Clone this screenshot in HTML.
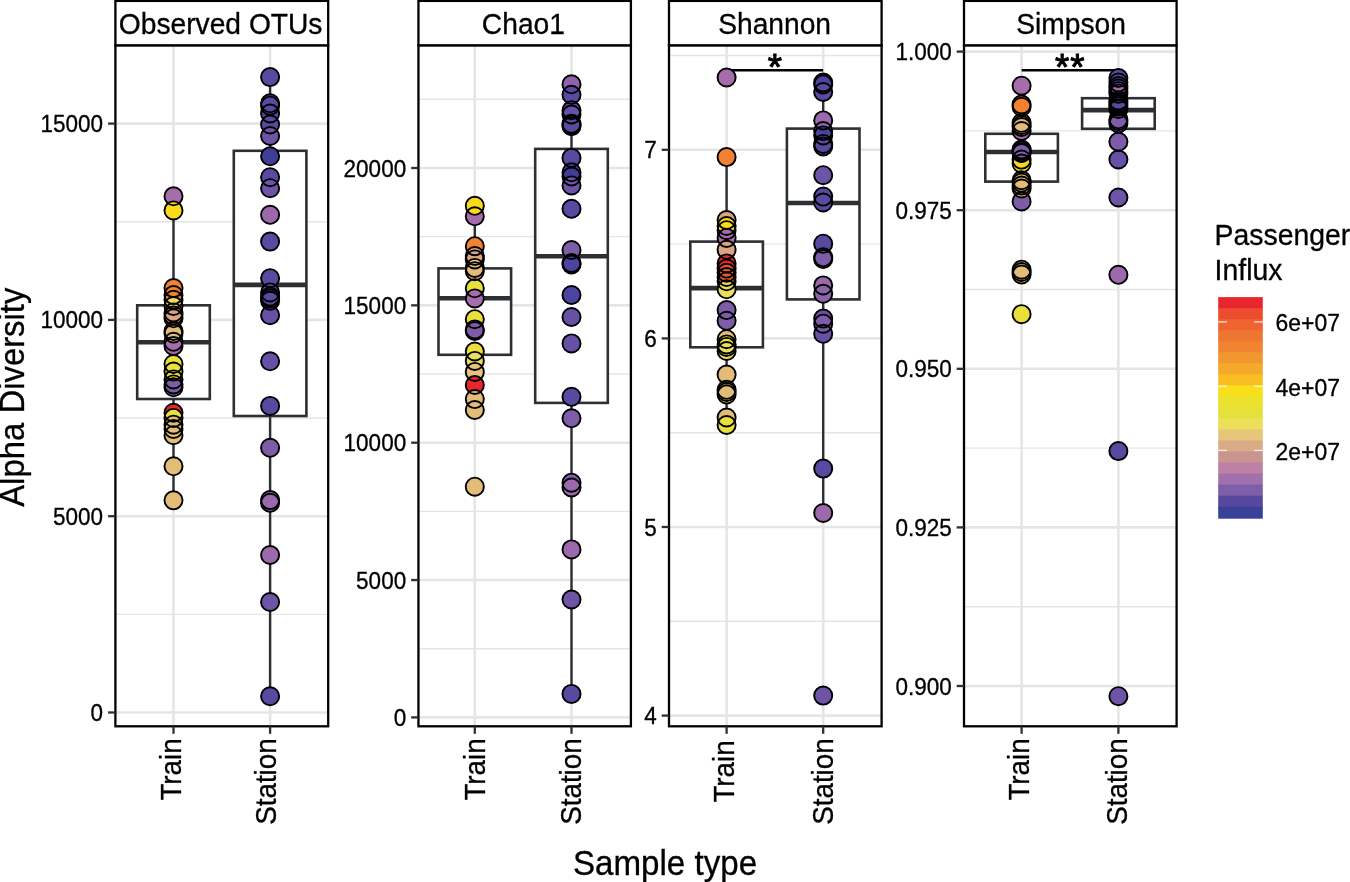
<!DOCTYPE html><html><head><meta charset="utf-8"><style>html,body{margin:0;padding:0;background:#fff;}svg{display:block;will-change:transform;}text{font-family:"Liberation Sans", sans-serif;stroke:#000;stroke-width:0.3px;}</style></head><body>
<svg width="1350" height="882" viewBox="0 0 1350 882">
<rect x="0" y="0" width="1350" height="882" fill="#fff"/>
<rect x="115.4" y="45.3" width="212.80" height="681.00" fill="#fff"/>
<line x1="115.4" x2="328.2" y1="614.35" y2="614.35" stroke="#E4E6E6" stroke-width="1.4"/>
<line x1="115.4" x2="328.2" y1="418.05" y2="418.05" stroke="#E4E6E6" stroke-width="1.4"/>
<line x1="115.4" x2="328.2" y1="221.75" y2="221.75" stroke="#E4E6E6" stroke-width="1.4"/>
<line x1="115.4" x2="328.2" y1="712.50" y2="712.50" stroke="#E4E6E6" stroke-width="2.6"/>
<line x1="115.4" x2="328.2" y1="516.20" y2="516.20" stroke="#E4E6E6" stroke-width="2.6"/>
<line x1="115.4" x2="328.2" y1="319.90" y2="319.90" stroke="#E4E6E6" stroke-width="2.6"/>
<line x1="115.4" x2="328.2" y1="123.60" y2="123.60" stroke="#E4E6E6" stroke-width="2.6"/>
<line x1="173.5" x2="173.5" y1="45.3" y2="726.3" stroke="#E4E6E6" stroke-width="2.6"/>
<line x1="270.1" x2="270.1" y1="45.3" y2="726.3" stroke="#E4E6E6" stroke-width="2.6"/>
<line x1="173.5" x2="173.5" y1="210.2" y2="305.3" stroke="#2D3033" stroke-width="2.4"/>
<line x1="173.5" x2="173.5" y1="399.0" y2="500.2" stroke="#2D3033" stroke-width="2.4"/>
<rect x="137.20" y="305.3" width="72.60" height="93.70" fill="#fff" stroke="#2D3033" stroke-width="2.6"/>
<line x1="137.20" x2="209.80" y1="342.2" y2="342.2" stroke="#2D3033" stroke-width="4.6"/>
<line x1="270.1" x2="270.1" y1="77.1" y2="150.8" stroke="#2D3033" stroke-width="2.4"/>
<line x1="270.1" x2="270.1" y1="416.0" y2="696.3" stroke="#2D3033" stroke-width="2.4"/>
<rect x="233.80" y="150.8" width="72.60" height="265.20" fill="#fff" stroke="#2D3033" stroke-width="2.6"/>
<line x1="233.80" x2="306.40" y1="284.9" y2="284.9" stroke="#2D3033" stroke-width="4.6"/>
<circle cx="173.5" cy="196.3" r="9.35" fill="#A66CAC"/>
<circle cx="173.5" cy="210.4" r="9.35" fill="#F9DB1C"/>
<circle cx="173.5" cy="288.1" r="9.35" fill="#F28131"/>
<circle cx="173.5" cy="295.1" r="9.35" fill="#F28131"/>
<circle cx="173.5" cy="299.8" r="9.35" fill="#F28131"/>
<circle cx="173.5" cy="306.0" r="9.35" fill="#ECE05A"/>
<circle cx="173.5" cy="312.4" r="9.35" fill="#E3BD78"/>
<circle cx="173.5" cy="315.5" r="9.35" fill="#E3BD78"/>
<circle cx="173.5" cy="318.3" r="9.35" fill="#D9A384"/>
<circle cx="173.5" cy="331.0" r="9.35" fill="#E3BD78"/>
<circle cx="173.5" cy="341.8" r="9.35" fill="#A66CAC"/>
<circle cx="173.5" cy="346.0" r="9.35" fill="#A66CAC"/>
<circle cx="173.5" cy="333.5" r="9.35" fill="#E3BD78"/>
<circle cx="173.5" cy="364.0" r="9.35" fill="#EAE03C"/>
<circle cx="173.5" cy="371.5" r="9.35" fill="#EAE03C"/>
<circle cx="173.5" cy="379.4" r="9.35" fill="#EAE03C"/>
<circle cx="173.5" cy="384.4" r="9.35" fill="#F9DB1C"/>
<circle cx="173.5" cy="387.3" r="9.35" fill="#7D5DA8"/>
<circle cx="173.5" cy="412.8" r="9.35" fill="#E8262D"/>
<circle cx="173.5" cy="417.9" r="9.35" fill="#EAE03C"/>
<circle cx="173.5" cy="424.7" r="9.35" fill="#E3BD78"/>
<circle cx="173.5" cy="429.0" r="9.35" fill="#E3BD78"/>
<circle cx="173.5" cy="435.2" r="9.35" fill="#E3BD78"/>
<circle cx="173.5" cy="466.3" r="9.35" fill="#E3BD78"/>
<circle cx="173.5" cy="500.3" r="9.35" fill="#E3BD78"/>
<circle cx="270.1" cy="77.1" r="9.35" fill="#5849A1"/>
<circle cx="270.1" cy="103.3" r="9.35" fill="#5849A1"/>
<circle cx="270.1" cy="105.7" r="9.35" fill="#5849A1"/>
<circle cx="270.1" cy="113.5" r="9.35" fill="#5849A1"/>
<circle cx="270.1" cy="124.5" r="9.35" fill="#5A4AA2"/>
<circle cx="270.1" cy="136.0" r="9.35" fill="#6E54A7"/>
<circle cx="270.1" cy="156.3" r="9.35" fill="#403D97"/>
<circle cx="270.1" cy="177.2" r="9.35" fill="#5849A1"/>
<circle cx="270.1" cy="188.2" r="9.35" fill="#6E54A7"/>
<circle cx="270.1" cy="214.8" r="9.35" fill="#9C6AAC"/>
<circle cx="270.1" cy="241.6" r="9.35" fill="#5849A1"/>
<circle cx="270.1" cy="278.2" r="9.35" fill="#5849A1"/>
<circle cx="270.1" cy="298.5" r="9.35" fill="#7D5DA8"/>
<circle cx="270.1" cy="292.4" r="9.35" fill="#5849A1"/>
<circle cx="270.1" cy="296.6" r="9.35" fill="#5849A1"/>
<circle cx="270.1" cy="300.8" r="9.35" fill="#5849A1"/>
<circle cx="270.1" cy="315.2" r="9.35" fill="#6651A6"/>
<circle cx="270.1" cy="361.3" r="9.35" fill="#6651A6"/>
<circle cx="270.1" cy="405.9" r="9.35" fill="#5849A1"/>
<circle cx="270.1" cy="447.8" r="9.35" fill="#7D5DA8"/>
<circle cx="270.1" cy="502.8" r="9.35" fill="#7D5DA8"/>
<circle cx="270.1" cy="500.1" r="9.35" fill="#9C6AAC"/>
<circle cx="270.1" cy="555.0" r="9.35" fill="#9C6AAC"/>
<circle cx="270.1" cy="602.0" r="9.35" fill="#6E54A7"/>
<circle cx="270.1" cy="696.3" r="9.35" fill="#5849A1"/>
<circle cx="173.5" cy="196.3" r="9.05" fill="none" stroke="#000" stroke-width="1.9"/>
<circle cx="173.5" cy="210.4" r="9.05" fill="none" stroke="#000" stroke-width="1.9"/>
<circle cx="173.5" cy="288.1" r="9.05" fill="none" stroke="#000" stroke-width="1.9"/>
<circle cx="173.5" cy="295.1" r="9.05" fill="none" stroke="#000" stroke-width="1.9"/>
<circle cx="173.5" cy="299.8" r="9.05" fill="none" stroke="#000" stroke-width="1.9"/>
<circle cx="173.5" cy="306.0" r="9.05" fill="none" stroke="#000" stroke-width="1.9"/>
<circle cx="173.5" cy="312.4" r="9.05" fill="none" stroke="#000" stroke-width="1.9"/>
<circle cx="173.5" cy="315.5" r="9.05" fill="none" stroke="#000" stroke-width="1.9"/>
<circle cx="173.5" cy="318.3" r="9.05" fill="none" stroke="#000" stroke-width="1.9"/>
<circle cx="173.5" cy="331.0" r="9.05" fill="none" stroke="#000" stroke-width="1.9"/>
<circle cx="173.5" cy="341.8" r="9.05" fill="none" stroke="#000" stroke-width="1.9"/>
<circle cx="173.5" cy="346.0" r="9.05" fill="none" stroke="#000" stroke-width="1.9"/>
<circle cx="173.5" cy="333.5" r="9.05" fill="none" stroke="#000" stroke-width="1.9"/>
<circle cx="173.5" cy="364.0" r="9.05" fill="none" stroke="#000" stroke-width="1.9"/>
<circle cx="173.5" cy="371.5" r="9.05" fill="none" stroke="#000" stroke-width="1.9"/>
<circle cx="173.5" cy="379.4" r="9.05" fill="none" stroke="#000" stroke-width="1.9"/>
<circle cx="173.5" cy="384.4" r="9.05" fill="none" stroke="#000" stroke-width="1.9"/>
<circle cx="173.5" cy="387.3" r="9.05" fill="none" stroke="#000" stroke-width="1.9"/>
<circle cx="173.5" cy="412.8" r="9.05" fill="none" stroke="#000" stroke-width="1.9"/>
<circle cx="173.5" cy="417.9" r="9.05" fill="none" stroke="#000" stroke-width="1.9"/>
<circle cx="173.5" cy="424.7" r="9.05" fill="none" stroke="#000" stroke-width="1.9"/>
<circle cx="173.5" cy="429.0" r="9.05" fill="none" stroke="#000" stroke-width="1.9"/>
<circle cx="173.5" cy="435.2" r="9.05" fill="none" stroke="#000" stroke-width="1.9"/>
<circle cx="173.5" cy="466.3" r="9.05" fill="none" stroke="#000" stroke-width="1.9"/>
<circle cx="173.5" cy="500.3" r="9.05" fill="none" stroke="#000" stroke-width="1.9"/>
<circle cx="270.1" cy="77.1" r="9.05" fill="none" stroke="#000" stroke-width="1.9"/>
<circle cx="270.1" cy="103.3" r="9.05" fill="none" stroke="#000" stroke-width="1.9"/>
<circle cx="270.1" cy="105.7" r="9.05" fill="none" stroke="#000" stroke-width="1.9"/>
<circle cx="270.1" cy="113.5" r="9.05" fill="none" stroke="#000" stroke-width="1.9"/>
<circle cx="270.1" cy="124.5" r="9.05" fill="none" stroke="#000" stroke-width="1.9"/>
<circle cx="270.1" cy="136.0" r="9.05" fill="none" stroke="#000" stroke-width="1.9"/>
<circle cx="270.1" cy="156.3" r="9.05" fill="none" stroke="#000" stroke-width="1.9"/>
<circle cx="270.1" cy="177.2" r="9.05" fill="none" stroke="#000" stroke-width="1.9"/>
<circle cx="270.1" cy="188.2" r="9.05" fill="none" stroke="#000" stroke-width="1.9"/>
<circle cx="270.1" cy="214.8" r="9.05" fill="none" stroke="#000" stroke-width="1.9"/>
<circle cx="270.1" cy="241.6" r="9.05" fill="none" stroke="#000" stroke-width="1.9"/>
<circle cx="270.1" cy="278.2" r="9.05" fill="none" stroke="#000" stroke-width="1.9"/>
<circle cx="270.1" cy="298.5" r="9.05" fill="none" stroke="#000" stroke-width="1.9"/>
<circle cx="270.1" cy="292.4" r="9.05" fill="none" stroke="#000" stroke-width="1.9"/>
<circle cx="270.1" cy="296.6" r="9.05" fill="none" stroke="#000" stroke-width="1.9"/>
<circle cx="270.1" cy="300.8" r="9.05" fill="none" stroke="#000" stroke-width="1.9"/>
<circle cx="270.1" cy="315.2" r="9.05" fill="none" stroke="#000" stroke-width="1.9"/>
<circle cx="270.1" cy="361.3" r="9.05" fill="none" stroke="#000" stroke-width="1.9"/>
<circle cx="270.1" cy="405.9" r="9.05" fill="none" stroke="#000" stroke-width="1.9"/>
<circle cx="270.1" cy="447.8" r="9.05" fill="none" stroke="#000" stroke-width="1.9"/>
<circle cx="270.1" cy="502.8" r="9.05" fill="none" stroke="#000" stroke-width="1.9"/>
<circle cx="270.1" cy="500.1" r="9.05" fill="none" stroke="#000" stroke-width="1.9"/>
<circle cx="270.1" cy="555.0" r="9.05" fill="none" stroke="#000" stroke-width="1.9"/>
<circle cx="270.1" cy="602.0" r="9.05" fill="none" stroke="#000" stroke-width="1.9"/>
<circle cx="270.1" cy="696.3" r="9.05" fill="none" stroke="#000" stroke-width="1.9"/>
<rect x="115.4" y="45.3" width="212.80" height="681.00" fill="none" stroke="#000" stroke-width="2.3"/>
<rect x="115.4" y="0.9" width="212.80" height="44.40" fill="#fff" stroke="#000" stroke-width="2.3"/>
<text transform="translate(220.65,33.60) scale(1,1.045)" font-size="28.2" text-anchor="middle" fill="#000">Observed OTUs</text>
<line x1="108.10" x2="115.4" y1="712.50" y2="712.50" stroke="#2D3033" stroke-width="2.3"/>
<text transform="translate(103.10,721.00) scale(1,1.045)" font-size="22.5" text-anchor="end" fill="#000">0</text>
<line x1="108.10" x2="115.4" y1="516.20" y2="516.20" stroke="#2D3033" stroke-width="2.3"/>
<text transform="translate(103.10,524.70) scale(1,1.045)" font-size="22.5" text-anchor="end" fill="#000">5000</text>
<line x1="108.10" x2="115.4" y1="319.90" y2="319.90" stroke="#2D3033" stroke-width="2.3"/>
<text transform="translate(103.10,328.40) scale(1,1.045)" font-size="22.5" text-anchor="end" fill="#000">10000</text>
<line x1="108.10" x2="115.4" y1="123.60" y2="123.60" stroke="#2D3033" stroke-width="2.3"/>
<text transform="translate(103.10,132.10) scale(1,1.045)" font-size="22.5" text-anchor="end" fill="#000">15000</text>
<line x1="173.5" x2="173.5" y1="726.3" y2="733.8" stroke="#2D3033" stroke-width="2.3"/>
<text transform="translate(180.80,738.30) rotate(-90) scale(1,1.045)" font-size="27.8" text-anchor="end" fill="#000">Train</text>
<line x1="270.1" x2="270.1" y1="726.3" y2="733.8" stroke="#2D3033" stroke-width="2.3"/>
<text transform="translate(275.50,738.30) rotate(-90) scale(1,1.045)" font-size="27.8" text-anchor="end" fill="#000">Station</text>
<rect x="418.45" y="45.3" width="212.45" height="681.00" fill="#fff"/>
<line x1="418.45" x2="630.9" y1="648.73" y2="648.73" stroke="#E4E6E6" stroke-width="1.4"/>
<line x1="418.45" x2="630.9" y1="511.38" y2="511.38" stroke="#E4E6E6" stroke-width="1.4"/>
<line x1="418.45" x2="630.9" y1="374.02" y2="374.02" stroke="#E4E6E6" stroke-width="1.4"/>
<line x1="418.45" x2="630.9" y1="236.67" y2="236.67" stroke="#E4E6E6" stroke-width="1.4"/>
<line x1="418.45" x2="630.9" y1="99.32" y2="99.32" stroke="#E4E6E6" stroke-width="1.4"/>
<line x1="418.45" x2="630.9" y1="717.40" y2="717.40" stroke="#E4E6E6" stroke-width="2.6"/>
<line x1="418.45" x2="630.9" y1="580.05" y2="580.05" stroke="#E4E6E6" stroke-width="2.6"/>
<line x1="418.45" x2="630.9" y1="442.70" y2="442.70" stroke="#E4E6E6" stroke-width="2.6"/>
<line x1="418.45" x2="630.9" y1="305.35" y2="305.35" stroke="#E4E6E6" stroke-width="2.6"/>
<line x1="418.45" x2="630.9" y1="168.00" y2="168.00" stroke="#E4E6E6" stroke-width="2.6"/>
<line x1="474.8" x2="474.8" y1="45.3" y2="726.3" stroke="#E4E6E6" stroke-width="2.6"/>
<line x1="571.5" x2="571.5" y1="45.3" y2="726.3" stroke="#E4E6E6" stroke-width="2.6"/>
<line x1="474.8" x2="474.8" y1="204.3" y2="268.4" stroke="#2D3033" stroke-width="2.4"/>
<line x1="474.8" x2="474.8" y1="354.8" y2="409.5" stroke="#2D3033" stroke-width="2.4"/>
<rect x="438.50" y="268.4" width="72.60" height="86.40" fill="#fff" stroke="#2D3033" stroke-width="2.6"/>
<line x1="438.50" x2="511.10" y1="298.3" y2="298.3" stroke="#2D3033" stroke-width="4.6"/>
<line x1="571.5" x2="571.5" y1="83.5" y2="148.9" stroke="#2D3033" stroke-width="2.4"/>
<line x1="571.5" x2="571.5" y1="402.9" y2="693.9" stroke="#2D3033" stroke-width="2.4"/>
<rect x="535.20" y="148.9" width="72.60" height="254.00" fill="#fff" stroke="#2D3033" stroke-width="2.6"/>
<line x1="535.20" x2="607.80" y1="256.2" y2="256.2" stroke="#2D3033" stroke-width="4.6"/>
<circle cx="474.8" cy="216.3" r="9.35" fill="#A66CAC"/>
<circle cx="474.8" cy="205.8" r="9.35" fill="#F9DB1C"/>
<circle cx="474.8" cy="246.2" r="9.35" fill="#F28131"/>
<circle cx="474.8" cy="256.0" r="9.35" fill="#D9A384"/>
<circle cx="474.8" cy="259.4" r="9.35" fill="#D9A384"/>
<circle cx="474.8" cy="267.9" r="9.35" fill="#E7C47A"/>
<circle cx="474.8" cy="271.2" r="9.35" fill="#E3BD78"/>
<circle cx="474.8" cy="288.3" r="9.35" fill="#EAE03C"/>
<circle cx="474.8" cy="298.4" r="9.35" fill="#A66CAC"/>
<circle cx="474.8" cy="319.2" r="9.35" fill="#EAE03C"/>
<circle cx="474.8" cy="331.0" r="9.35" fill="#6E54A7"/>
<circle cx="474.8" cy="329.4" r="9.35" fill="#7D5DA8"/>
<circle cx="474.8" cy="351.5" r="9.35" fill="#EAE03C"/>
<circle cx="474.8" cy="360.9" r="9.35" fill="#ECE05A"/>
<circle cx="474.8" cy="371.9" r="9.35" fill="#E7C47A"/>
<circle cx="474.8" cy="385.0" r="9.35" fill="#E8262D"/>
<circle cx="474.8" cy="399.1" r="9.35" fill="#E3BD78"/>
<circle cx="474.8" cy="410.0" r="9.35" fill="#E3BD78"/>
<circle cx="474.8" cy="486.7" r="9.35" fill="#E3BD78"/>
<circle cx="571.5" cy="84.3" r="9.35" fill="#8B64AA"/>
<circle cx="571.5" cy="94.8" r="9.35" fill="#5849A1"/>
<circle cx="571.5" cy="110.2" r="9.35" fill="#5849A1"/>
<circle cx="571.5" cy="114.5" r="9.35" fill="#6651A6"/>
<circle cx="571.5" cy="123.8" r="9.35" fill="#5849A1"/>
<circle cx="571.5" cy="124.5" r="9.35" fill="#7D5DA8"/>
<circle cx="571.5" cy="126.3" r="9.35" fill="#5849A1"/>
<circle cx="571.5" cy="157.9" r="9.35" fill="#5849A1"/>
<circle cx="571.5" cy="172.3" r="9.35" fill="#4B44A0"/>
<circle cx="571.5" cy="176.5" r="9.35" fill="#403D97"/>
<circle cx="571.5" cy="185.4" r="9.35" fill="#6E54A7"/>
<circle cx="571.5" cy="208.8" r="9.35" fill="#5849A1"/>
<circle cx="571.5" cy="250.0" r="9.35" fill="#7D5DA8"/>
<circle cx="571.5" cy="263.0" r="9.35" fill="#4B44A0"/>
<circle cx="571.5" cy="264.5" r="9.35" fill="#4B44A0"/>
<circle cx="571.5" cy="295.0" r="9.35" fill="#4B44A0"/>
<circle cx="571.5" cy="317.0" r="9.35" fill="#6651A6"/>
<circle cx="571.5" cy="343.4" r="9.35" fill="#6651A6"/>
<circle cx="571.5" cy="396.8" r="9.35" fill="#5849A1"/>
<circle cx="571.5" cy="418.3" r="9.35" fill="#7D5DA8"/>
<circle cx="571.5" cy="482.7" r="9.35" fill="#7D5DA8"/>
<circle cx="571.5" cy="487.5" r="9.35" fill="#9C6AAC"/>
<circle cx="571.5" cy="549.4" r="9.35" fill="#9C6AAC"/>
<circle cx="571.5" cy="599.5" r="9.35" fill="#6E54A7"/>
<circle cx="571.5" cy="693.9" r="9.35" fill="#5849A1"/>
<circle cx="474.8" cy="216.3" r="9.05" fill="none" stroke="#000" stroke-width="1.9"/>
<circle cx="474.8" cy="205.8" r="9.05" fill="none" stroke="#000" stroke-width="1.9"/>
<circle cx="474.8" cy="246.2" r="9.05" fill="none" stroke="#000" stroke-width="1.9"/>
<circle cx="474.8" cy="256.0" r="9.05" fill="none" stroke="#000" stroke-width="1.9"/>
<circle cx="474.8" cy="259.4" r="9.05" fill="none" stroke="#000" stroke-width="1.9"/>
<circle cx="474.8" cy="267.9" r="9.05" fill="none" stroke="#000" stroke-width="1.9"/>
<circle cx="474.8" cy="271.2" r="9.05" fill="none" stroke="#000" stroke-width="1.9"/>
<circle cx="474.8" cy="288.3" r="9.05" fill="none" stroke="#000" stroke-width="1.9"/>
<circle cx="474.8" cy="298.4" r="9.05" fill="none" stroke="#000" stroke-width="1.9"/>
<circle cx="474.8" cy="319.2" r="9.05" fill="none" stroke="#000" stroke-width="1.9"/>
<circle cx="474.8" cy="331.0" r="9.05" fill="none" stroke="#000" stroke-width="1.9"/>
<circle cx="474.8" cy="329.4" r="9.05" fill="none" stroke="#000" stroke-width="1.9"/>
<circle cx="474.8" cy="351.5" r="9.05" fill="none" stroke="#000" stroke-width="1.9"/>
<circle cx="474.8" cy="360.9" r="9.05" fill="none" stroke="#000" stroke-width="1.9"/>
<circle cx="474.8" cy="371.9" r="9.05" fill="none" stroke="#000" stroke-width="1.9"/>
<circle cx="474.8" cy="385.0" r="9.05" fill="none" stroke="#000" stroke-width="1.9"/>
<circle cx="474.8" cy="399.1" r="9.05" fill="none" stroke="#000" stroke-width="1.9"/>
<circle cx="474.8" cy="410.0" r="9.05" fill="none" stroke="#000" stroke-width="1.9"/>
<circle cx="474.8" cy="486.7" r="9.05" fill="none" stroke="#000" stroke-width="1.9"/>
<circle cx="571.5" cy="84.3" r="9.05" fill="none" stroke="#000" stroke-width="1.9"/>
<circle cx="571.5" cy="94.8" r="9.05" fill="none" stroke="#000" stroke-width="1.9"/>
<circle cx="571.5" cy="110.2" r="9.05" fill="none" stroke="#000" stroke-width="1.9"/>
<circle cx="571.5" cy="114.5" r="9.05" fill="none" stroke="#000" stroke-width="1.9"/>
<circle cx="571.5" cy="123.8" r="9.05" fill="none" stroke="#000" stroke-width="1.9"/>
<circle cx="571.5" cy="124.5" r="9.05" fill="none" stroke="#000" stroke-width="1.9"/>
<circle cx="571.5" cy="126.3" r="9.05" fill="none" stroke="#000" stroke-width="1.9"/>
<circle cx="571.5" cy="157.9" r="9.05" fill="none" stroke="#000" stroke-width="1.9"/>
<circle cx="571.5" cy="172.3" r="9.05" fill="none" stroke="#000" stroke-width="1.9"/>
<circle cx="571.5" cy="176.5" r="9.05" fill="none" stroke="#000" stroke-width="1.9"/>
<circle cx="571.5" cy="185.4" r="9.05" fill="none" stroke="#000" stroke-width="1.9"/>
<circle cx="571.5" cy="208.8" r="9.05" fill="none" stroke="#000" stroke-width="1.9"/>
<circle cx="571.5" cy="250.0" r="9.05" fill="none" stroke="#000" stroke-width="1.9"/>
<circle cx="571.5" cy="263.0" r="9.05" fill="none" stroke="#000" stroke-width="1.9"/>
<circle cx="571.5" cy="264.5" r="9.05" fill="none" stroke="#000" stroke-width="1.9"/>
<circle cx="571.5" cy="295.0" r="9.05" fill="none" stroke="#000" stroke-width="1.9"/>
<circle cx="571.5" cy="317.0" r="9.05" fill="none" stroke="#000" stroke-width="1.9"/>
<circle cx="571.5" cy="343.4" r="9.05" fill="none" stroke="#000" stroke-width="1.9"/>
<circle cx="571.5" cy="396.8" r="9.05" fill="none" stroke="#000" stroke-width="1.9"/>
<circle cx="571.5" cy="418.3" r="9.05" fill="none" stroke="#000" stroke-width="1.9"/>
<circle cx="571.5" cy="482.7" r="9.05" fill="none" stroke="#000" stroke-width="1.9"/>
<circle cx="571.5" cy="487.5" r="9.05" fill="none" stroke="#000" stroke-width="1.9"/>
<circle cx="571.5" cy="549.4" r="9.05" fill="none" stroke="#000" stroke-width="1.9"/>
<circle cx="571.5" cy="599.5" r="9.05" fill="none" stroke="#000" stroke-width="1.9"/>
<circle cx="571.5" cy="693.9" r="9.05" fill="none" stroke="#000" stroke-width="1.9"/>
<rect x="418.45" y="45.3" width="212.45" height="681.00" fill="none" stroke="#000" stroke-width="2.3"/>
<rect x="418.45" y="0.9" width="212.45" height="44.40" fill="#fff" stroke="#000" stroke-width="2.3"/>
<text transform="translate(523.38,33.60) scale(1,1.045)" font-size="28.2" text-anchor="middle" fill="#000">Chao1</text>
<line x1="411.15" x2="418.45" y1="717.40" y2="717.40" stroke="#2D3033" stroke-width="2.3"/>
<text transform="translate(406.15,725.90) scale(1,1.045)" font-size="22.5" text-anchor="end" fill="#000">0</text>
<line x1="411.15" x2="418.45" y1="580.05" y2="580.05" stroke="#2D3033" stroke-width="2.3"/>
<text transform="translate(406.15,588.55) scale(1,1.045)" font-size="22.5" text-anchor="end" fill="#000">5000</text>
<line x1="411.15" x2="418.45" y1="442.70" y2="442.70" stroke="#2D3033" stroke-width="2.3"/>
<text transform="translate(406.15,451.20) scale(1,1.045)" font-size="22.5" text-anchor="end" fill="#000">10000</text>
<line x1="411.15" x2="418.45" y1="305.35" y2="305.35" stroke="#2D3033" stroke-width="2.3"/>
<text transform="translate(406.15,313.85) scale(1,1.045)" font-size="22.5" text-anchor="end" fill="#000">15000</text>
<line x1="411.15" x2="418.45" y1="168.00" y2="168.00" stroke="#2D3033" stroke-width="2.3"/>
<text transform="translate(406.15,176.50) scale(1,1.045)" font-size="22.5" text-anchor="end" fill="#000">20000</text>
<line x1="474.8" x2="474.8" y1="726.3" y2="733.8" stroke="#2D3033" stroke-width="2.3"/>
<text transform="translate(485.20,738.30) rotate(-90) scale(1,1.045)" font-size="27.8" text-anchor="end" fill="#000">Train</text>
<line x1="571.5" x2="571.5" y1="726.3" y2="733.8" stroke="#2D3033" stroke-width="2.3"/>
<text transform="translate(580.80,738.30) rotate(-90) scale(1,1.045)" font-size="27.8" text-anchor="end" fill="#000">Station</text>
<rect x="669.0" y="45.3" width="212.60" height="681.00" fill="#fff"/>
<line x1="669.0" x2="881.6" y1="621.30" y2="621.30" stroke="#E4E6E6" stroke-width="1.4"/>
<line x1="669.0" x2="881.6" y1="432.70" y2="432.70" stroke="#E4E6E6" stroke-width="1.4"/>
<line x1="669.0" x2="881.6" y1="244.10" y2="244.10" stroke="#E4E6E6" stroke-width="1.4"/>
<line x1="669.0" x2="881.6" y1="55.50" y2="55.50" stroke="#E4E6E6" stroke-width="1.4"/>
<line x1="669.0" x2="881.6" y1="715.60" y2="715.60" stroke="#E4E6E6" stroke-width="2.6"/>
<line x1="669.0" x2="881.6" y1="527.00" y2="527.00" stroke="#E4E6E6" stroke-width="2.6"/>
<line x1="669.0" x2="881.6" y1="338.40" y2="338.40" stroke="#E4E6E6" stroke-width="2.6"/>
<line x1="669.0" x2="881.6" y1="149.80" y2="149.80" stroke="#E4E6E6" stroke-width="2.6"/>
<line x1="726.6" x2="726.6" y1="45.3" y2="726.3" stroke="#E4E6E6" stroke-width="2.6"/>
<line x1="823.2" x2="823.2" y1="45.3" y2="726.3" stroke="#E4E6E6" stroke-width="2.6"/>
<line x1="726.6" x2="726.6" y1="157.1" y2="241.6" stroke="#2D3033" stroke-width="2.4"/>
<line x1="726.6" x2="726.6" y1="347.3" y2="424.6" stroke="#2D3033" stroke-width="2.4"/>
<rect x="690.30" y="241.6" width="72.60" height="105.70" fill="#fff" stroke="#2D3033" stroke-width="2.6"/>
<line x1="690.30" x2="762.90" y1="288.1" y2="288.1" stroke="#2D3033" stroke-width="4.6"/>
<line x1="823.2" x2="823.2" y1="80.6" y2="128.6" stroke="#2D3033" stroke-width="2.4"/>
<line x1="823.2" x2="823.2" y1="299.4" y2="513.0" stroke="#2D3033" stroke-width="2.4"/>
<rect x="786.90" y="128.6" width="72.60" height="170.80" fill="#fff" stroke="#2D3033" stroke-width="2.6"/>
<line x1="786.90" x2="859.50" y1="203.0" y2="203.0" stroke="#2D3033" stroke-width="4.6"/>
<line x1="726.6" x2="823.2" y1="70.3" y2="70.3" stroke="#000" stroke-width="2.4"/>
<circle cx="726.6" cy="77.5" r="9.35" fill="#A66CAC"/>
<circle cx="726.6" cy="157.1" r="9.35" fill="#F28131"/>
<circle cx="726.6" cy="220.0" r="9.35" fill="#D9A384"/>
<circle cx="726.6" cy="230.2" r="9.35" fill="#F9DB1C"/>
<circle cx="726.6" cy="226.0" r="9.35" fill="#F9DB1C"/>
<circle cx="726.6" cy="237.9" r="9.35" fill="#A66CAC"/>
<circle cx="726.6" cy="249.8" r="9.35" fill="#D9A384"/>
<circle cx="726.6" cy="263.4" r="9.35" fill="#E8262D"/>
<circle cx="726.6" cy="268.6" r="9.35" fill="#E8262D"/>
<circle cx="726.6" cy="272.8" r="9.35" fill="#EC4D2F"/>
<circle cx="726.6" cy="277.0" r="9.35" fill="#EE5A30"/>
<circle cx="726.6" cy="281.3" r="9.35" fill="#EE5A30"/>
<circle cx="726.6" cy="289.3" r="9.35" fill="#ECE05A"/>
<circle cx="726.6" cy="310.1" r="9.35" fill="#7D5DA8"/>
<circle cx="726.6" cy="320.8" r="9.35" fill="#7D5DA8"/>
<circle cx="726.6" cy="339.2" r="9.35" fill="#E3BD78"/>
<circle cx="726.6" cy="344.4" r="9.35" fill="#EAE03C"/>
<circle cx="726.6" cy="346.9" r="9.35" fill="#EAE03C"/>
<circle cx="726.6" cy="351.0" r="9.35" fill="#ECE05A"/>
<circle cx="726.6" cy="374.6" r="9.35" fill="#E3BD78"/>
<circle cx="726.6" cy="394.4" r="9.35" fill="#F9DB1C"/>
<circle cx="726.6" cy="389.8" r="9.35" fill="#E3BD78"/>
<circle cx="726.6" cy="392.0" r="9.35" fill="#E3BD78"/>
<circle cx="726.6" cy="417.5" r="9.35" fill="#E3BD78"/>
<circle cx="726.6" cy="425.0" r="9.35" fill="#EAE03C"/>
<circle cx="823.2" cy="82.5" r="9.35" fill="#4B44A0"/>
<circle cx="823.2" cy="84.4" r="9.35" fill="#4B44A0"/>
<circle cx="823.2" cy="92.0" r="9.35" fill="#5849A1"/>
<circle cx="823.2" cy="120.4" r="9.35" fill="#9C6AAC"/>
<circle cx="823.2" cy="131.1" r="9.35" fill="#8B64AA"/>
<circle cx="823.2" cy="135.4" r="9.35" fill="#4B44A0"/>
<circle cx="823.2" cy="143.9" r="9.35" fill="#4B44A0"/>
<circle cx="823.2" cy="146.5" r="9.35" fill="#5849A1"/>
<circle cx="823.2" cy="175.2" r="9.35" fill="#6E54A7"/>
<circle cx="823.2" cy="196.6" r="9.35" fill="#5849A1"/>
<circle cx="823.2" cy="202.5" r="9.35" fill="#5849A1"/>
<circle cx="823.2" cy="243.7" r="9.35" fill="#5849A1"/>
<circle cx="823.2" cy="258.9" r="9.35" fill="#403D97"/>
<circle cx="823.2" cy="257.3" r="9.35" fill="#7D5DA8"/>
<circle cx="823.2" cy="285.4" r="9.35" fill="#9C6AAC"/>
<circle cx="823.2" cy="293.8" r="9.35" fill="#8B64AA"/>
<circle cx="823.2" cy="318.5" r="9.35" fill="#6651A6"/>
<circle cx="823.2" cy="333.8" r="9.35" fill="#6651A6"/>
<circle cx="823.2" cy="323.7" r="9.35" fill="#7D5DA8"/>
<circle cx="823.2" cy="468.6" r="9.35" fill="#5849A1"/>
<circle cx="823.2" cy="513.0" r="9.35" fill="#9C6AAC"/>
<circle cx="823.2" cy="695.6" r="9.35" fill="#6E54A7"/>
<circle cx="726.6" cy="77.5" r="9.05" fill="none" stroke="#000" stroke-width="1.9"/>
<circle cx="726.6" cy="157.1" r="9.05" fill="none" stroke="#000" stroke-width="1.9"/>
<circle cx="726.6" cy="220.0" r="9.05" fill="none" stroke="#000" stroke-width="1.9"/>
<circle cx="726.6" cy="230.2" r="9.05" fill="none" stroke="#000" stroke-width="1.9"/>
<circle cx="726.6" cy="226.0" r="9.05" fill="none" stroke="#000" stroke-width="1.9"/>
<circle cx="726.6" cy="237.9" r="9.05" fill="none" stroke="#000" stroke-width="1.9"/>
<circle cx="726.6" cy="249.8" r="9.05" fill="none" stroke="#000" stroke-width="1.9"/>
<circle cx="726.6" cy="263.4" r="9.05" fill="none" stroke="#000" stroke-width="1.9"/>
<circle cx="726.6" cy="268.6" r="9.05" fill="none" stroke="#000" stroke-width="1.9"/>
<circle cx="726.6" cy="272.8" r="9.05" fill="none" stroke="#000" stroke-width="1.9"/>
<circle cx="726.6" cy="277.0" r="9.05" fill="none" stroke="#000" stroke-width="1.9"/>
<circle cx="726.6" cy="281.3" r="9.05" fill="none" stroke="#000" stroke-width="1.9"/>
<circle cx="726.6" cy="289.3" r="9.05" fill="none" stroke="#000" stroke-width="1.9"/>
<circle cx="726.6" cy="310.1" r="9.05" fill="none" stroke="#000" stroke-width="1.9"/>
<circle cx="726.6" cy="320.8" r="9.05" fill="none" stroke="#000" stroke-width="1.9"/>
<circle cx="726.6" cy="339.2" r="9.05" fill="none" stroke="#000" stroke-width="1.9"/>
<circle cx="726.6" cy="344.4" r="9.05" fill="none" stroke="#000" stroke-width="1.9"/>
<circle cx="726.6" cy="346.9" r="9.05" fill="none" stroke="#000" stroke-width="1.9"/>
<circle cx="726.6" cy="351.0" r="9.05" fill="none" stroke="#000" stroke-width="1.9"/>
<circle cx="726.6" cy="374.6" r="9.05" fill="none" stroke="#000" stroke-width="1.9"/>
<circle cx="726.6" cy="394.4" r="9.05" fill="none" stroke="#000" stroke-width="1.9"/>
<circle cx="726.6" cy="389.8" r="9.05" fill="none" stroke="#000" stroke-width="1.9"/>
<circle cx="726.6" cy="392.0" r="9.05" fill="none" stroke="#000" stroke-width="1.9"/>
<circle cx="726.6" cy="417.5" r="9.05" fill="none" stroke="#000" stroke-width="1.9"/>
<circle cx="726.6" cy="425.0" r="9.05" fill="none" stroke="#000" stroke-width="1.9"/>
<circle cx="823.2" cy="82.5" r="9.05" fill="none" stroke="#000" stroke-width="1.9"/>
<circle cx="823.2" cy="84.4" r="9.05" fill="none" stroke="#000" stroke-width="1.9"/>
<circle cx="823.2" cy="92.0" r="9.05" fill="none" stroke="#000" stroke-width="1.9"/>
<circle cx="823.2" cy="120.4" r="9.05" fill="none" stroke="#000" stroke-width="1.9"/>
<circle cx="823.2" cy="131.1" r="9.05" fill="none" stroke="#000" stroke-width="1.9"/>
<circle cx="823.2" cy="135.4" r="9.05" fill="none" stroke="#000" stroke-width="1.9"/>
<circle cx="823.2" cy="143.9" r="9.05" fill="none" stroke="#000" stroke-width="1.9"/>
<circle cx="823.2" cy="146.5" r="9.05" fill="none" stroke="#000" stroke-width="1.9"/>
<circle cx="823.2" cy="175.2" r="9.05" fill="none" stroke="#000" stroke-width="1.9"/>
<circle cx="823.2" cy="196.6" r="9.05" fill="none" stroke="#000" stroke-width="1.9"/>
<circle cx="823.2" cy="202.5" r="9.05" fill="none" stroke="#000" stroke-width="1.9"/>
<circle cx="823.2" cy="243.7" r="9.05" fill="none" stroke="#000" stroke-width="1.9"/>
<circle cx="823.2" cy="258.9" r="9.05" fill="none" stroke="#000" stroke-width="1.9"/>
<circle cx="823.2" cy="257.3" r="9.05" fill="none" stroke="#000" stroke-width="1.9"/>
<circle cx="823.2" cy="285.4" r="9.05" fill="none" stroke="#000" stroke-width="1.9"/>
<circle cx="823.2" cy="293.8" r="9.05" fill="none" stroke="#000" stroke-width="1.9"/>
<circle cx="823.2" cy="318.5" r="9.05" fill="none" stroke="#000" stroke-width="1.9"/>
<circle cx="823.2" cy="333.8" r="9.05" fill="none" stroke="#000" stroke-width="1.9"/>
<circle cx="823.2" cy="323.7" r="9.05" fill="none" stroke="#000" stroke-width="1.9"/>
<circle cx="823.2" cy="468.6" r="9.05" fill="none" stroke="#000" stroke-width="1.9"/>
<circle cx="823.2" cy="513.0" r="9.05" fill="none" stroke="#000" stroke-width="1.9"/>
<circle cx="823.2" cy="695.6" r="9.05" fill="none" stroke="#000" stroke-width="1.9"/>
<rect x="669.0" y="45.3" width="212.60" height="681.00" fill="none" stroke="#000" stroke-width="2.3"/>
<rect x="669.0" y="0.9" width="212.60" height="44.40" fill="#fff" stroke="#000" stroke-width="2.3"/>
<text transform="translate(774.60,33.60) scale(1,1.045)" font-size="28.2" text-anchor="middle" fill="#000">Shannon</text>
<line x1="661.70" x2="669.0" y1="715.60" y2="715.60" stroke="#2D3033" stroke-width="2.3"/>
<text transform="translate(656.70,724.10) scale(1,1.045)" font-size="22.5" text-anchor="end" fill="#000">4</text>
<line x1="661.70" x2="669.0" y1="527.00" y2="527.00" stroke="#2D3033" stroke-width="2.3"/>
<text transform="translate(656.70,535.50) scale(1,1.045)" font-size="22.5" text-anchor="end" fill="#000">5</text>
<line x1="661.70" x2="669.0" y1="338.40" y2="338.40" stroke="#2D3033" stroke-width="2.3"/>
<text transform="translate(656.70,346.90) scale(1,1.045)" font-size="22.5" text-anchor="end" fill="#000">6</text>
<line x1="661.70" x2="669.0" y1="149.80" y2="149.80" stroke="#2D3033" stroke-width="2.3"/>
<text transform="translate(656.70,158.30) scale(1,1.045)" font-size="22.5" text-anchor="end" fill="#000">7</text>
<line x1="726.6" x2="726.6" y1="726.3" y2="733.8" stroke="#2D3033" stroke-width="2.3"/>
<text transform="translate(733.50,740.30) rotate(-90) scale(1,1.045)" font-size="27.8" text-anchor="end" fill="#000">Train</text>
<line x1="823.2" x2="823.2" y1="726.3" y2="733.8" stroke="#2D3033" stroke-width="2.3"/>
<text transform="translate(832.80,738.30) rotate(-90) scale(1,1.045)" font-size="27.8" text-anchor="end" fill="#000">Station</text>
<rect x="964.0" y="45.3" width="212.60" height="681.00" fill="#fff"/>
<line x1="964.0" x2="1176.6" y1="130.90" y2="130.90" stroke="#E4E6E6" stroke-width="1.4"/>
<line x1="964.0" x2="1176.6" y1="289.50" y2="289.50" stroke="#E4E6E6" stroke-width="1.4"/>
<line x1="964.0" x2="1176.6" y1="448.10" y2="448.10" stroke="#E4E6E6" stroke-width="1.4"/>
<line x1="964.0" x2="1176.6" y1="606.70" y2="606.70" stroke="#E4E6E6" stroke-width="1.4"/>
<line x1="964.0" x2="1176.6" y1="51.60" y2="51.60" stroke="#E4E6E6" stroke-width="2.6"/>
<line x1="964.0" x2="1176.6" y1="210.20" y2="210.20" stroke="#E4E6E6" stroke-width="2.6"/>
<line x1="964.0" x2="1176.6" y1="368.80" y2="368.80" stroke="#E4E6E6" stroke-width="2.6"/>
<line x1="964.0" x2="1176.6" y1="527.40" y2="527.40" stroke="#E4E6E6" stroke-width="2.6"/>
<line x1="964.0" x2="1176.6" y1="686.00" y2="686.00" stroke="#E4E6E6" stroke-width="2.6"/>
<line x1="1021.6" x2="1021.6" y1="45.3" y2="726.3" stroke="#E4E6E6" stroke-width="2.6"/>
<line x1="1118.4" x2="1118.4" y1="45.3" y2="726.3" stroke="#E4E6E6" stroke-width="2.6"/>
<line x1="1021.6" x2="1021.6" y1="85.7" y2="133.8" stroke="#2D3033" stroke-width="2.4"/>
<line x1="1021.6" x2="1021.6" y1="181.6" y2="202.7" stroke="#2D3033" stroke-width="2.4"/>
<rect x="985.30" y="133.8" width="72.60" height="47.80" fill="#fff" stroke="#2D3033" stroke-width="2.6"/>
<line x1="985.30" x2="1057.90" y1="152.0" y2="152.0" stroke="#2D3033" stroke-width="4.6"/>
<line x1="1118.4" x2="1118.4" y1="78.0" y2="98.2" stroke="#2D3033" stroke-width="2.4"/>
<line x1="1118.4" x2="1118.4" y1="128.8" y2="159.3" stroke="#2D3033" stroke-width="2.4"/>
<rect x="1082.10" y="98.2" width="72.60" height="30.60" fill="#fff" stroke="#2D3033" stroke-width="2.6"/>
<line x1="1082.10" x2="1154.70" y1="110.1" y2="110.1" stroke="#2D3033" stroke-width="4.6"/>
<line x1="1021.6" x2="1118.4" y1="70.3" y2="70.3" stroke="#000" stroke-width="2.4"/>
<circle cx="1021.6" cy="85.7" r="9.35" fill="#A66CAC"/>
<circle cx="1021.6" cy="106.8" r="9.35" fill="#D9A384"/>
<circle cx="1021.6" cy="104.5" r="9.35" fill="#F28131"/>
<circle cx="1021.6" cy="131.0" r="9.35" fill="#A66CAC"/>
<circle cx="1021.6" cy="125.0" r="9.35" fill="#E3BD78"/>
<circle cx="1021.6" cy="122.8" r="9.35" fill="#E7C47A"/>
<circle cx="1021.6" cy="127.0" r="9.35" fill="#E3BD78"/>
<circle cx="1021.6" cy="159.6" r="9.35" fill="#F9DB1C"/>
<circle cx="1021.6" cy="163.5" r="9.35" fill="#F9DB1C"/>
<circle cx="1021.6" cy="150.5" r="9.35" fill="#5849A1"/>
<circle cx="1021.6" cy="152.5" r="9.35" fill="#403D97"/>
<circle cx="1021.6" cy="153.0" r="9.35" fill="#7D5DA8"/>
<circle cx="1021.6" cy="149.5" r="9.35" fill="#7D5DA8"/>
<circle cx="1021.6" cy="201.4" r="9.35" fill="#7D5DA8"/>
<circle cx="1021.6" cy="180.2" r="9.35" fill="#E3BD78"/>
<circle cx="1021.6" cy="182.6" r="9.35" fill="#E3BD78"/>
<circle cx="1021.6" cy="185.5" r="9.35" fill="#E3BD78"/>
<circle cx="1021.6" cy="188.5" r="9.35" fill="#E3BD78"/>
<circle cx="1021.6" cy="274.5" r="9.35" fill="#F9DB1C"/>
<circle cx="1021.6" cy="269.7" r="9.35" fill="#E3BD78"/>
<circle cx="1021.6" cy="272.0" r="9.35" fill="#E3BD78"/>
<circle cx="1021.6" cy="314.2" r="9.35" fill="#EAE03C"/>
<circle cx="1118.4" cy="78.0" r="9.35" fill="#5849A1"/>
<circle cx="1118.4" cy="82.6" r="9.35" fill="#5849A1"/>
<circle cx="1118.4" cy="86.0" r="9.35" fill="#5849A1"/>
<circle cx="1118.4" cy="88.5" r="9.35" fill="#5849A1"/>
<circle cx="1118.4" cy="91.2" r="9.35" fill="#5849A1"/>
<circle cx="1118.4" cy="93.7" r="9.35" fill="#9C6AAC"/>
<circle cx="1118.4" cy="100.5" r="9.35" fill="#5849A1"/>
<circle cx="1118.4" cy="102.4" r="9.35" fill="#403D97"/>
<circle cx="1118.4" cy="104.4" r="9.35" fill="#5849A1"/>
<circle cx="1118.4" cy="106.4" r="9.35" fill="#5849A1"/>
<circle cx="1118.4" cy="109.0" r="9.35" fill="#5849A1"/>
<circle cx="1118.4" cy="119.3" r="9.35" fill="#5849A1"/>
<circle cx="1118.4" cy="123.4" r="9.35" fill="#5849A1"/>
<circle cx="1118.4" cy="121.0" r="9.35" fill="#7D5DA8"/>
<circle cx="1118.4" cy="141.8" r="9.35" fill="#7D5DA8"/>
<circle cx="1118.4" cy="159.5" r="9.35" fill="#6651A6"/>
<circle cx="1118.4" cy="197.5" r="9.35" fill="#6E54A7"/>
<circle cx="1118.4" cy="274.8" r="9.35" fill="#9C6AAC"/>
<circle cx="1118.4" cy="451.1" r="9.35" fill="#5849A1"/>
<circle cx="1118.4" cy="696.2" r="9.35" fill="#6E54A7"/>
<circle cx="1021.6" cy="85.7" r="9.05" fill="none" stroke="#000" stroke-width="1.9"/>
<circle cx="1021.6" cy="106.8" r="9.05" fill="none" stroke="#000" stroke-width="1.9"/>
<circle cx="1021.6" cy="104.5" r="9.05" fill="none" stroke="#000" stroke-width="1.9"/>
<circle cx="1021.6" cy="131.0" r="9.05" fill="none" stroke="#000" stroke-width="1.9"/>
<circle cx="1021.6" cy="125.0" r="9.05" fill="none" stroke="#000" stroke-width="1.9"/>
<circle cx="1021.6" cy="122.8" r="9.05" fill="none" stroke="#000" stroke-width="1.9"/>
<circle cx="1021.6" cy="127.0" r="9.05" fill="none" stroke="#000" stroke-width="1.9"/>
<circle cx="1021.6" cy="159.6" r="9.05" fill="none" stroke="#000" stroke-width="1.9"/>
<circle cx="1021.6" cy="163.5" r="9.05" fill="none" stroke="#000" stroke-width="1.9"/>
<circle cx="1021.6" cy="150.5" r="9.05" fill="none" stroke="#000" stroke-width="1.9"/>
<circle cx="1021.6" cy="152.5" r="9.05" fill="none" stroke="#000" stroke-width="1.9"/>
<circle cx="1021.6" cy="153.0" r="9.05" fill="none" stroke="#000" stroke-width="1.9"/>
<circle cx="1021.6" cy="149.5" r="9.05" fill="none" stroke="#000" stroke-width="1.9"/>
<circle cx="1021.6" cy="201.4" r="9.05" fill="none" stroke="#000" stroke-width="1.9"/>
<circle cx="1021.6" cy="180.2" r="9.05" fill="none" stroke="#000" stroke-width="1.9"/>
<circle cx="1021.6" cy="182.6" r="9.05" fill="none" stroke="#000" stroke-width="1.9"/>
<circle cx="1021.6" cy="185.5" r="9.05" fill="none" stroke="#000" stroke-width="1.9"/>
<circle cx="1021.6" cy="188.5" r="9.05" fill="none" stroke="#000" stroke-width="1.9"/>
<circle cx="1021.6" cy="274.5" r="9.05" fill="none" stroke="#000" stroke-width="1.9"/>
<circle cx="1021.6" cy="269.7" r="9.05" fill="none" stroke="#000" stroke-width="1.9"/>
<circle cx="1021.6" cy="272.0" r="9.05" fill="none" stroke="#000" stroke-width="1.9"/>
<circle cx="1021.6" cy="314.2" r="9.05" fill="none" stroke="#000" stroke-width="1.9"/>
<circle cx="1118.4" cy="78.0" r="9.05" fill="none" stroke="#000" stroke-width="1.9"/>
<circle cx="1118.4" cy="82.6" r="9.05" fill="none" stroke="#000" stroke-width="1.9"/>
<circle cx="1118.4" cy="86.0" r="9.05" fill="none" stroke="#000" stroke-width="1.9"/>
<circle cx="1118.4" cy="88.5" r="9.05" fill="none" stroke="#000" stroke-width="1.9"/>
<circle cx="1118.4" cy="91.2" r="9.05" fill="none" stroke="#000" stroke-width="1.9"/>
<circle cx="1118.4" cy="93.7" r="9.05" fill="none" stroke="#000" stroke-width="1.9"/>
<circle cx="1118.4" cy="100.5" r="9.05" fill="none" stroke="#000" stroke-width="1.9"/>
<circle cx="1118.4" cy="102.4" r="9.05" fill="none" stroke="#000" stroke-width="1.9"/>
<circle cx="1118.4" cy="104.4" r="9.05" fill="none" stroke="#000" stroke-width="1.9"/>
<circle cx="1118.4" cy="106.4" r="9.05" fill="none" stroke="#000" stroke-width="1.9"/>
<circle cx="1118.4" cy="109.0" r="9.05" fill="none" stroke="#000" stroke-width="1.9"/>
<circle cx="1118.4" cy="119.3" r="9.05" fill="none" stroke="#000" stroke-width="1.9"/>
<circle cx="1118.4" cy="123.4" r="9.05" fill="none" stroke="#000" stroke-width="1.9"/>
<circle cx="1118.4" cy="121.0" r="9.05" fill="none" stroke="#000" stroke-width="1.9"/>
<circle cx="1118.4" cy="141.8" r="9.05" fill="none" stroke="#000" stroke-width="1.9"/>
<circle cx="1118.4" cy="159.5" r="9.05" fill="none" stroke="#000" stroke-width="1.9"/>
<circle cx="1118.4" cy="197.5" r="9.05" fill="none" stroke="#000" stroke-width="1.9"/>
<circle cx="1118.4" cy="274.8" r="9.05" fill="none" stroke="#000" stroke-width="1.9"/>
<circle cx="1118.4" cy="451.1" r="9.05" fill="none" stroke="#000" stroke-width="1.9"/>
<circle cx="1118.4" cy="696.2" r="9.05" fill="none" stroke="#000" stroke-width="1.9"/>
<rect x="964.0" y="45.3" width="212.60" height="681.00" fill="none" stroke="#000" stroke-width="2.3"/>
<rect x="964.0" y="0.9" width="212.60" height="44.40" fill="#fff" stroke="#000" stroke-width="2.3"/>
<text transform="translate(1071.00,33.60) scale(1,1.045)" font-size="28.2" text-anchor="middle" fill="#000">Simpson</text>
<line x1="956.70" x2="964.0" y1="51.60" y2="51.60" stroke="#2D3033" stroke-width="2.3"/>
<text transform="translate(951.70,60.10) scale(1,1.045)" font-size="22.5" text-anchor="end" fill="#000">1.000</text>
<line x1="956.70" x2="964.0" y1="210.20" y2="210.20" stroke="#2D3033" stroke-width="2.3"/>
<text transform="translate(951.70,218.70) scale(1,1.045)" font-size="22.5" text-anchor="end" fill="#000">0.975</text>
<line x1="956.70" x2="964.0" y1="368.80" y2="368.80" stroke="#2D3033" stroke-width="2.3"/>
<text transform="translate(951.70,377.30) scale(1,1.045)" font-size="22.5" text-anchor="end" fill="#000">0.950</text>
<line x1="956.70" x2="964.0" y1="527.40" y2="527.40" stroke="#2D3033" stroke-width="2.3"/>
<text transform="translate(951.70,535.90) scale(1,1.045)" font-size="22.5" text-anchor="end" fill="#000">0.925</text>
<line x1="956.70" x2="964.0" y1="686.00" y2="686.00" stroke="#2D3033" stroke-width="2.3"/>
<text transform="translate(951.70,694.50) scale(1,1.045)" font-size="22.5" text-anchor="end" fill="#000">0.900</text>
<line x1="1021.6" x2="1021.6" y1="726.3" y2="733.8" stroke="#2D3033" stroke-width="2.3"/>
<text transform="translate(1028.50,738.30) rotate(-90) scale(1,1.045)" font-size="27.8" text-anchor="end" fill="#000">Train</text>
<line x1="1118.4" x2="1118.4" y1="726.3" y2="733.8" stroke="#2D3033" stroke-width="2.3"/>
<text transform="translate(1126.80,738.30) rotate(-90) scale(1,1.045)" font-size="27.8" text-anchor="end" fill="#000">Station</text>
<text x="774.90" y="79.6" font-size="36.5" text-anchor="middle" style="stroke-width:1.0px" fill="#000">*</text>
<text x="1062.00" y="79.6" font-size="36.5" text-anchor="middle" style="stroke-width:1.0px" fill="#000">*</text>
<text x="1077.40" y="79.6" font-size="36.5" text-anchor="middle" style="stroke-width:1.0px" fill="#000">*</text>
<text transform="translate(665.00,874.80) scale(1,1.045)" font-size="33.15" text-anchor="middle" fill="#000">Sample type</text>
<text transform="translate(23.80,397.20) rotate(-90) scale(1,1.045)" font-size="32.9" text-anchor="middle" fill="#000">Alpha Diversity</text>
<text transform="translate(1214.60,245.30) scale(1,1.045)" font-size="28.4" text-anchor="start" fill="#000">Passenger</text>
<text transform="translate(1214.60,280.00) scale(1,1.045)" font-size="28.4" text-anchor="start" fill="#000">Influx</text>
<rect x="1218.2" y="297.10" width="44.6" height="12.03" fill="#E8262D"/>
<rect x="1218.2" y="308.13" width="44.6" height="12.03" fill="#EC4D2F"/>
<rect x="1218.2" y="319.16" width="44.6" height="12.03" fill="#EE632F"/>
<rect x="1218.2" y="330.19" width="44.6" height="12.03" fill="#EF7532"/>
<rect x="1218.2" y="341.22" width="44.6" height="12.03" fill="#F08431"/>
<rect x="1218.2" y="352.25" width="44.6" height="12.03" fill="#F2962E"/>
<rect x="1218.2" y="363.28" width="44.6" height="12.03" fill="#F5A92A"/>
<rect x="1218.2" y="374.31" width="44.6" height="12.03" fill="#F8BE22"/>
<rect x="1218.2" y="385.34" width="44.6" height="12.03" fill="#F9DF1B"/>
<rect x="1218.2" y="396.37" width="44.6" height="12.03" fill="#EAE22D"/>
<rect x="1218.2" y="407.40" width="44.6" height="12.03" fill="#E5E03A"/>
<rect x="1218.2" y="418.43" width="44.6" height="12.03" fill="#ECE05B"/>
<rect x="1218.2" y="429.46" width="44.6" height="12.03" fill="#E7C57A"/>
<rect x="1218.2" y="440.49" width="44.6" height="12.03" fill="#D9AB86"/>
<rect x="1218.2" y="451.52" width="44.6" height="12.03" fill="#CA9490"/>
<rect x="1218.2" y="462.55" width="44.6" height="12.03" fill="#BF80A5"/>
<rect x="1218.2" y="473.58" width="44.6" height="12.03" fill="#A171AE"/>
<rect x="1218.2" y="484.61" width="44.6" height="12.03" fill="#7D5EA9"/>
<rect x="1218.2" y="495.64" width="44.6" height="12.03" fill="#56489C"/>
<rect x="1218.2" y="506.67" width="44.6" height="12.03" fill="#3A4198"/>
<line x1="1218.2" x2="1227" y1="321.9" y2="321.9" stroke="#fff" stroke-opacity="0.8" stroke-width="1.3"/>
<line x1="1254" x2="1262.8" y1="321.9" y2="321.9" stroke="#fff" stroke-opacity="0.8" stroke-width="1.3"/>
<text transform="translate(1275.60,331.20) scale(1,1.045)" font-size="22.9" text-anchor="start" fill="#000">6e+07</text>
<line x1="1218.2" x2="1227" y1="386.2" y2="386.2" stroke="#fff" stroke-opacity="0.8" stroke-width="1.3"/>
<line x1="1254" x2="1262.8" y1="386.2" y2="386.2" stroke="#fff" stroke-opacity="0.8" stroke-width="1.3"/>
<text transform="translate(1275.60,395.50) scale(1,1.045)" font-size="22.9" text-anchor="start" fill="#000">4e+07</text>
<line x1="1218.2" x2="1227" y1="450.4" y2="450.4" stroke="#fff" stroke-opacity="0.8" stroke-width="1.3"/>
<line x1="1254" x2="1262.8" y1="450.4" y2="450.4" stroke="#fff" stroke-opacity="0.8" stroke-width="1.3"/>
<text transform="translate(1275.60,459.70) scale(1,1.045)" font-size="22.9" text-anchor="start" fill="#000">2e+07</text>
</svg></body></html>
